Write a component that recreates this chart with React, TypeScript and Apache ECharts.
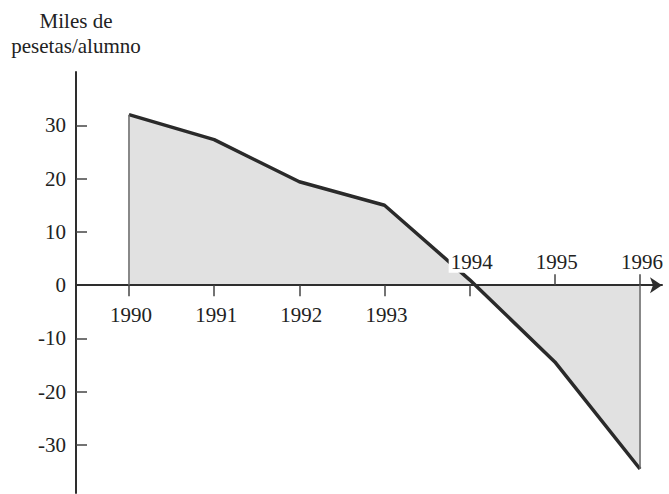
import React, { useEffect, useRef } from "react";
import * as echarts from "echarts";

const years = [1990, 1991, 1992, 1993, 1994, 1995, 1996];
const values = [32, 27.3, 19.4, 15.0, 1.0, -14.4, -34.5];
const lowerTickYears = [1990, 1991, 1992, 1993, 1994];
const upperTickYears = [1995, 1996];
const lowerLabelYears = [1990, 1991, 1992, 1993];
const upperLabelYears = [1994, 1995, 1996];
const yTickValues = [-30, -20, -10, 0, 10, 20, 30];
const yAxisName = "Miles de\npesetas/alumno";

const FONT = "'Liberation Serif', 'Times New Roman', serif";

export default function App() {
  const ref = useRef<HTMLDivElement>(null);
  useEffect(() => {
    if (!ref.current) return;
    const chart = echarts.init(ref.current, null, { renderer: "svg" });
    const xMin = 1989.378;
    const xMax = 1996.258;
    const axisLineStyle = { color: "#2e2e2e", width: 2 };
    const tickStyle = { color: "#444", width: 1.5 };
    const labelBase = { fontFamily: FONT, fontSize: 21, color: "#222" };
    const firstYear = years[0];
    const lastYear = years[years.length - 1];
    const labelData = [
      ...lowerLabelYears.map((y) => [y, 0, 1]),
      ...upperLabelYears.map((y) => [y, 0, -1]),
    ];
    chart.setOption({
      animation: false,
      backgroundColor: "#ffffff",
      grid: { left: 76, right: 7, top: 72, bottom: 1, outerBoundsMode: "none" },
      xAxis: [
        {
          type: "value",
          position: "bottom",
          min: xMin,
          max: xMax,
          z: 3,
          axisLine: {
            show: true,
            onZero: true,
            onZeroAxisIndex: 0,
            lineStyle: axisLineStyle,
            symbol: ["none", "arrow"],
            symbolSize: [12, 12],
          },
          axisTick: { show: true, length: 11, lineStyle: tickStyle, customValues: lowerTickYears },
          axisLabel: { show: false },
          splitLine: { show: false },
        },
        {
          type: "value",
          position: "top",
          min: xMin,
          max: xMax,
          z: 3,
          axisLine: { show: false, onZero: true, onZeroAxisIndex: 0 },
          axisTick: { show: true, length: 11, lineStyle: tickStyle, customValues: upperTickYears },
          axisLabel: { show: false },
          splitLine: { show: false },
        },
      ],
      yAxis: {
        type: "value",
        min: -39,
        max: 40,
        name: yAxisName,
        nameLocation: "end",
        nameGap: 14,
        nameTextStyle: { ...labelBase, lineHeight: 25, align: "center" },
        axisLine: { show: true, onZero: false, lineStyle: axisLineStyle },
        axisTick: { show: true, inside: true, length: 11, lineStyle: tickStyle, customValues: yTickValues },
        axisLabel: { ...labelBase, margin: 10, customValues: yTickValues },
        splitLine: { show: false },
      },
      series: [
        {
          type: "line",
          data: years.map((y, i) => [y, values[i]]),
          symbol: "none",
          z: 2,
          lineStyle: { color: "#2a2a2a", width: 3.5, join: "round" },
          areaStyle: { color: "#e1e1e1", opacity: 1 },
        },
        {
          type: "line",
          data: [
            [firstYear, 0],
            [firstYear, values[0]],
          ],
          symbol: "none",
          z: 3,
          lineStyle: { color: "#666", width: 1.5 },
        },
        {
          type: "line",
          data: [
            [lastYear, 0],
            [lastYear, values[values.length - 1]],
          ],
          symbol: "none",
          z: 3,
          lineStyle: { color: "#666", width: 1.5 },
        },
        {
          type: "custom",
          z: 6,
          silent: true,
          data: labelData,
          renderItem: (params: any, api: any) => {
            const yr = api.value(0);
            const side = api.value(2);
            const pt = api.coord([yr, 0]);
            return {
              type: "text",
              x: pt[0] + 2,
              y: pt[1] + (side > 0 ? 30 : -23),
              style: {
                text: String(yr),
                fontFamily: FONT,
                fontSize: 21,
                fill: "#222",
                align: "center",
                verticalAlign: "middle",
                backgroundColor: side < 0 ? "#ffffff" : undefined,
                padding: [0, 2],
              },
            };
          },
        },
      ],
    });
    return () => chart.dispose();
  }, []);
  return (
    <div
      ref={ref}
      style={{ position: "absolute", left: 0, top: 0, width: 669, height: 494, background: "#fff" }}
    />
  );
}
